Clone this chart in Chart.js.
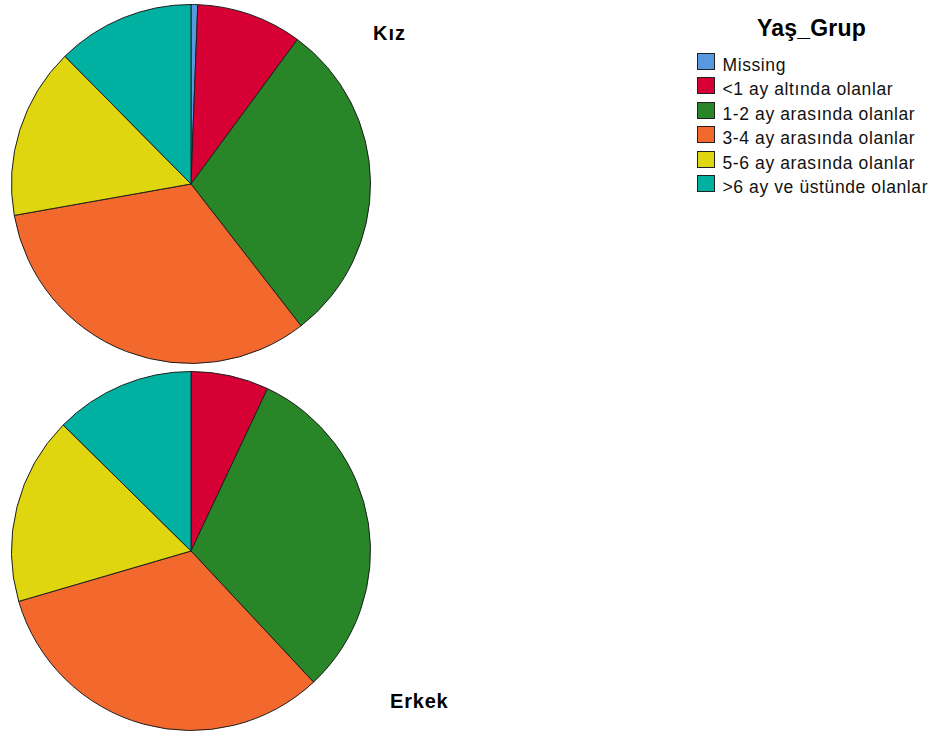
<!DOCTYPE html>
<html>
<head>
<meta charset="utf-8">
<script src="https://cdn.jsdelivr.net/npm/chart.js@4.4.0/dist/chart.umd.min.js"></script>
<style>
  body { margin: 0; background: #fff; width: 946px; height: 733px; position: relative; overflow: hidden; font-family: "Liberation Sans", Arial, sans-serif; color: #000; }
  canvas { position: absolute; }
  .lbl { position: absolute; font-weight: bold; font-size: 20px; line-height: 20px; white-space: nowrap; }
  #legend { position: absolute; left: 697px; top: 0; }
  .item { position: absolute; left: 0; white-space: nowrap; font-size: 17.5px; line-height: 17.5px; letter-spacing: 0.6px; color: #111; }
  .sw { position: absolute; left: 0; width: 16px; height: 15px; border: 1px solid #222; }
</style>
</head>
<body>
<canvas id="kiz" width="360" height="360" style="left:11px;top:4px"></canvas>
<canvas id="erkek" width="360" height="360" style="left:11px;top:371px"></canvas>
<div class="lbl" style="left:373px;top:23px;letter-spacing:1px">Kız</div>
<div class="lbl" style="left:390px;top:691px;letter-spacing:0.8px">Erkek</div>
<div class="lbl" style="left:757px;top:17px;font-size:23px;line-height:23px;letter-spacing:0.2px">Yaş_Grup</div>
<div id="legend"></div>
<script>
// Yaş grupları (legend order)
var categories = [
  "Missing",
  "<1 ay altında olanlar",
  "1-2 ay arasında olanlar",
  "3-4 ay arasında olanlar",
  "5-6 ay arasında olanlar",
  ">6 ay ve üstünde olanlar",
];

// percentages
var kizValues = [0.6, 9.5, 29.4, 32.7, 15.4, 12.4];
var erkekValues = [0, 7.0, 31.0, 32.4, 16.9, 12.6];

var colors = [
  "rgb(88, 152, 222)",
  "rgb(214, 0, 52)",
  "rgb(40, 133, 40)",
  "rgb(243, 104, 44)",
  "rgb(224, 214, 16)",
  "rgb(0, 176, 160)",
];

function makePie(id, values) {
  var ctx = document.getElementById(id).getContext("2d");
  return new Chart(ctx, {
    type: "pie",
    data: {
      labels: categories,
      datasets: [
        {
          data: values,
          backgroundColor: colors,
          borderColor: "#1e1e1e",
          borderWidth: 1,
          hoverOffset: 0,
        },
      ],
    },
    options: {
      responsive: false,
      animation: false,
      devicePixelRatio: 1,
      layout: { padding: 0 },
      plugins: {
        legend: { display: false },
        tooltip: { enabled: false },
      },
    },
  });
}

makePie("kiz", kizValues);
makePie("erkek", erkekValues);

// legend on the right
var legend = document.getElementById("legend");
categories.forEach(function (name, i) {
  var sw = document.createElement("div");
  sw.className = "sw";
  sw.style.top = 53 + i * 24.4 + "px";
  sw.style.background = colors[i];
  legend.appendChild(sw);

  var txt = document.createElement("div");
  txt.className = "item";
  txt.style.left = "25.5px";
  txt.style.top = 57 + i * 24.4 + "px";
  txt.textContent = name;
  legend.appendChild(txt);
});
</script>
</body>
</html>
